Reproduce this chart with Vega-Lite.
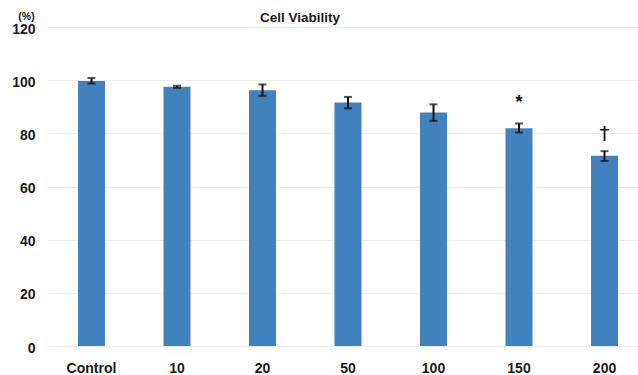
{
  "$schema": "https://vega.github.io/schema/vega-lite/v6.json",
  "autosize": "none",
  "width": 590,
  "height": 319,
  "padding": {"left": 48, "top": 27, "right": 0, "bottom": 29},
  "background": "white",
  "title": {
    "text": "Cell Viability",
    "anchor": "start",
    "frame": "group",
    "dx": 212,
    "dy": 27,
    "offset": 3,
    "baseline": "alphabetic",
    "font": "Liberation Sans",
    "fontSize": 13.5,
    "fontWeight": "bold",
    "color": "#1a1a1a"
  },
  "config": {
    "view": {"stroke": null},
    "font": "Liberation Sans"
  },
  "data": {
    "values": [
      {"dose": "Control", "value": 99.7, "lo": 98.7, "hi": 100.8, "sig": "", "sig_y": 0},
      {"dose": "10", "value": 97.5, "lo": 97.1, "hi": 97.9, "sig": "", "sig_y": 0},
      {"dose": "20", "value": 96.2, "lo": 94.1, "hi": 98.4, "sig": "", "sig_y": 0},
      {"dose": "50", "value": 91.6, "lo": 89.4, "hi": 93.7, "sig": "", "sig_y": 0},
      {"dose": "100", "value": 87.8, "lo": 84.7, "hi": 90.9, "sig": "", "sig_y": 0},
      {"dose": "150", "value": 81.9, "lo": 80.3, "hi": 83.7, "sig": "*", "sig_y": 92.5},
      {"dose": "200", "value": 71.6, "lo": 69.6, "hi": 73.3, "sig": "†", "sig_y": 79.6}
    ]
  },
  "encoding": {
    "x": {
      "field": "dose",
      "type": "nominal",
      "sort": null,
      "scale": {"paddingInner": 0.684, "paddingOuter": 0.292, "align": 0.6},
      "axis": {
        "title": null,
        "labelAngle": 0,
        "domain": false,
        "ticks": false,
        "labelPadding": 15,
        "labelFont": "Liberation Sans",
        "labelFontSize": 14,
        "labelFontWeight": "bold",
        "labelColor": "#1a1a1a"
      }
    }
  },
  "layer": [
    {
      "mark": {"type": "bar", "color": "#4181be"},
      "encoding": {
        "y": {
          "field": "value",
          "type": "quantitative",
          "scale": {"domain": [0, 120], "nice": false},
          "axis": {
            "values": [0, 20, 40, 60, 80, 100, 120],
            "title": "(%)",
            "titleAngle": 0,
            "titleX": -22,
            "titleY": -11,
            "titleAlign": "center",
            "titleBaseline": "middle",
            "titleFont": "Liberation Sans",
            "titleFontSize": 10.5,
            "titleFontWeight": "bold",
            "titleColor": "#1a1a1a",
            "domain": false,
            "ticks": false,
            "grid": true,
            "gridColor": "#ededed",
            "gridWidth": 1,
            "labelPadding": 13,
            "labelOffset": 2,
            "labelFont": "Liberation Sans",
            "labelFontSize": 14,
            "labelFontWeight": "bold",
            "labelColor": "#1a1a1a"
          }
        }
      }
    },
    {
      "mark": {"type": "rule", "color": "#111111", "strokeWidth": 2},
      "encoding": {
        "y": {"field": "lo", "type": "quantitative"},
        "y2": {"field": "hi"}
      }
    },
    {
      "mark": {"type": "tick", "color": "#111111", "orient": "horizontal", "size": 8, "thickness": 2},
      "encoding": {
        "y": {"field": "lo", "type": "quantitative"}
      }
    },
    {
      "mark": {"type": "tick", "color": "#111111", "orient": "horizontal", "size": 8, "thickness": 2},
      "encoding": {
        "y": {"field": "hi", "type": "quantitative"}
      }
    },
    {
      "transform": [{"filter": "datum.sig == '*'"}],
      "mark": {"type": "text", "baseline": "middle", "align": "center", "font": "Liberation Sans", "fontSize": 18, "fontWeight": "bold", "color": "#111111", "dy": 3},
      "encoding": {
        "y": {"field": "sig_y", "type": "quantitative"},
        "text": {"field": "sig"}
      }
    },
    {
      "transform": [{"filter": "datum.sig == '†'"}],
      "mark": {"type": "text", "baseline": "middle", "align": "center", "font": "DejaVu Sans", "fontSize": 20, "color": "#111111"},
      "encoding": {
        "y": {"field": "sig_y", "type": "quantitative"},
        "text": {"field": "sig"}
      }
    }
  ]
}
